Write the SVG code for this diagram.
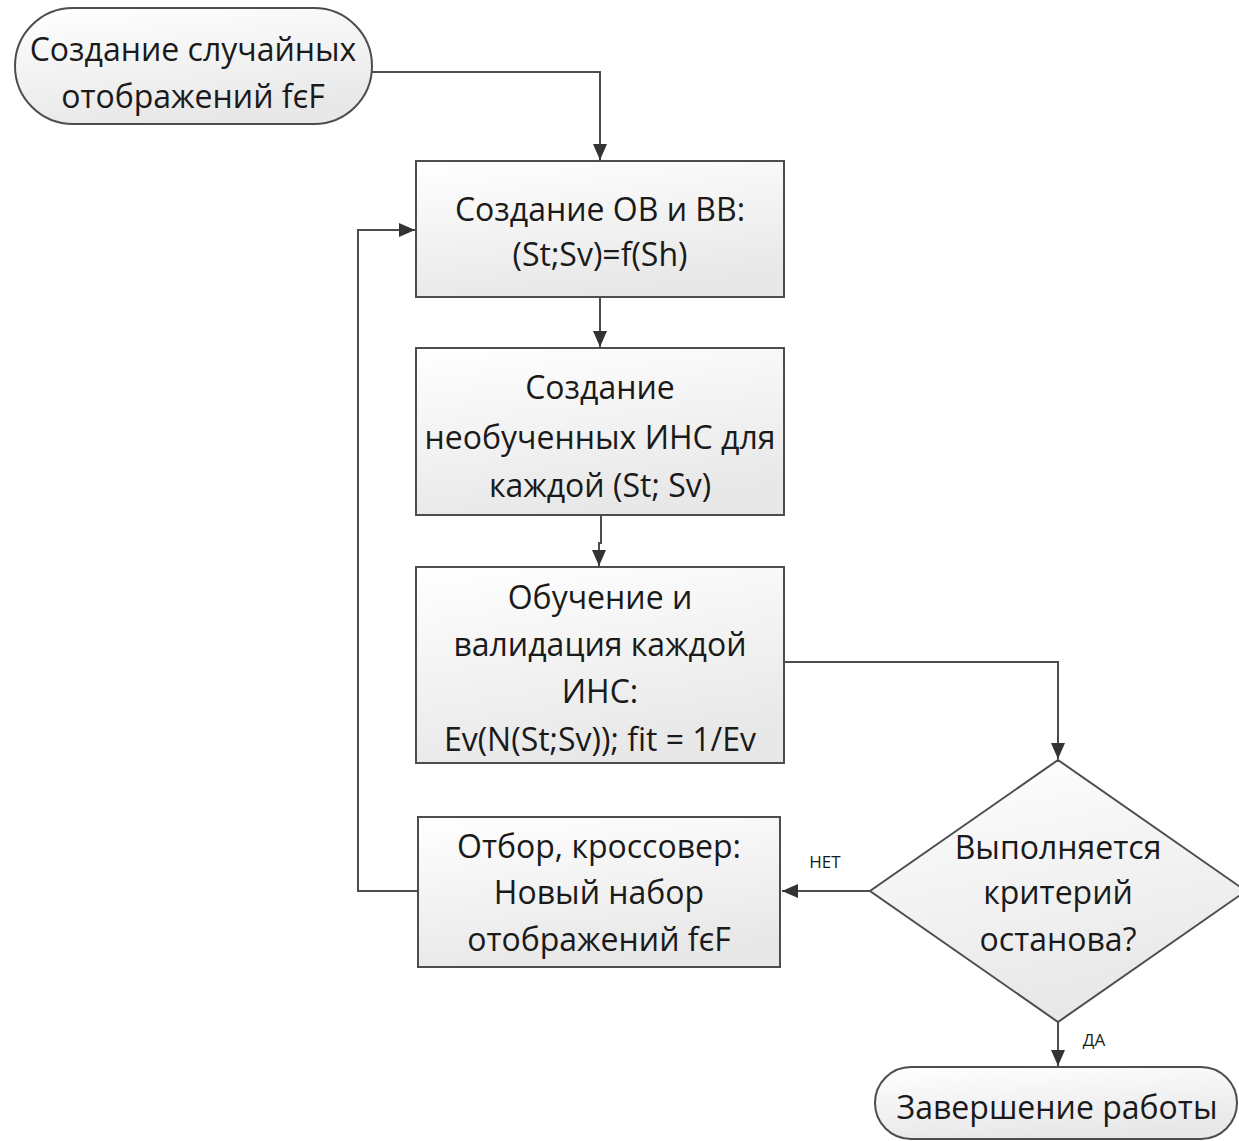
<svg xmlns="http://www.w3.org/2000/svg" width="1239" height="1141" viewBox="0 0 1239 1141">
<style>
.box{stroke:#4d4d4d;stroke-width:2;fill:url(#g)}
.t{font-family:"Open Sans","Liberation Sans",sans-serif;font-size:32px;fill:#1a1a1a;text-anchor:middle}
.s{font-family:"Open Sans","Liberation Sans",sans-serif;font-size:17px;fill:#1a1a1a;text-anchor:middle}
.c{stroke:#4d4d4d;stroke-width:2;fill:none;marker-end:url(#a)}
</style>
<defs>
<linearGradient id="g" x1="0" y1="0" x2="0.3" y2="1">
<stop offset="0" stop-color="#ffffff"/>
<stop offset="1" stop-color="#e8e8e8"/>
</linearGradient>
<marker id="a" markerUnits="userSpaceOnUse" markerWidth="16" markerHeight="14" viewBox="0 0 16 14" refX="16" refY="7" orient="auto">
<path d="M0,0 L16,7 L0,14 Z" fill="#333"/>
</marker>
</defs>
<g id="connectors">
<path class="c" d="M372,72 H600 V160"/>
<path class="c" d="M600,297 V347"/>
<path class="c" d="M601,515 V543 H599 V566"/>
<path class="c" d="M783,662 H1058 V759"/>
<path class="c" d="M870,891 H782"/>
<path class="c" d="M418,891 H358 V230 H415"/>
<path class="c" d="M1058,1022 V1066"/>
<text class="s" x="825" y="868">НЕТ</text>
<text class="s" x="1094" y="1046">ДА</text>
</g>
<g id="start">
<rect class="box" x="15" y="8" width="357" height="116" rx="58" ry="58"/>
<text class="t" x="193" y="61">Создание случайных</text>
<text class="t" x="193" y="108">отображений fєF</text>
</g>
<g id="box1">
<rect class="box" x="416" y="161" width="368" height="136"/>
<text class="t" x="600" y="221">Создание ОВ и ВВ:</text>
<text class="t" x="600" y="266">(St;Sv)=f(Sh)</text>
</g>
<g id="box2">
<rect class="box" x="416" y="348" width="368" height="167"/>
<text class="t" x="600" y="399">Создание</text>
<text class="t" x="600" y="449">необученных ИНС для</text>
<text class="t" x="600" y="497">каждой (St; Sv)</text>
</g>
<g id="box3">
<rect class="box" x="416" y="567" width="368" height="196"/>
<text class="t" x="600" y="609">Обучение и</text>
<text class="t" x="600" y="656">валидация каждой</text>
<text class="t" x="600" y="703">ИНС:</text>
<text class="t" x="600" y="751">Ev(N(St;Sv)); fit = 1/Ev</text>
</g>
<g id="decision">
<path class="box" d="M1058,760 L1246,891 L1058,1022 L870,891 Z"/>
<text class="t" x="1058" y="859">Выполняется</text>
<text class="t" x="1058" y="904">критерий</text>
<text class="t" x="1058" y="951">останова?</text>
</g>
<g id="box4">
<rect class="box" x="418" y="817" width="362" height="150"/>
<text class="t" x="599" y="858">Отбор, кроссовер:</text>
<text class="t" x="599" y="904">Новый набор</text>
<text class="t" x="599" y="951">отображений fєF</text>
</g>
<g id="end">
<rect class="box" x="875" y="1067" width="362" height="72" rx="36" ry="36"/>
<text class="t" x="1057" y="1119">Завершение работы</text>
</g>
</svg>
